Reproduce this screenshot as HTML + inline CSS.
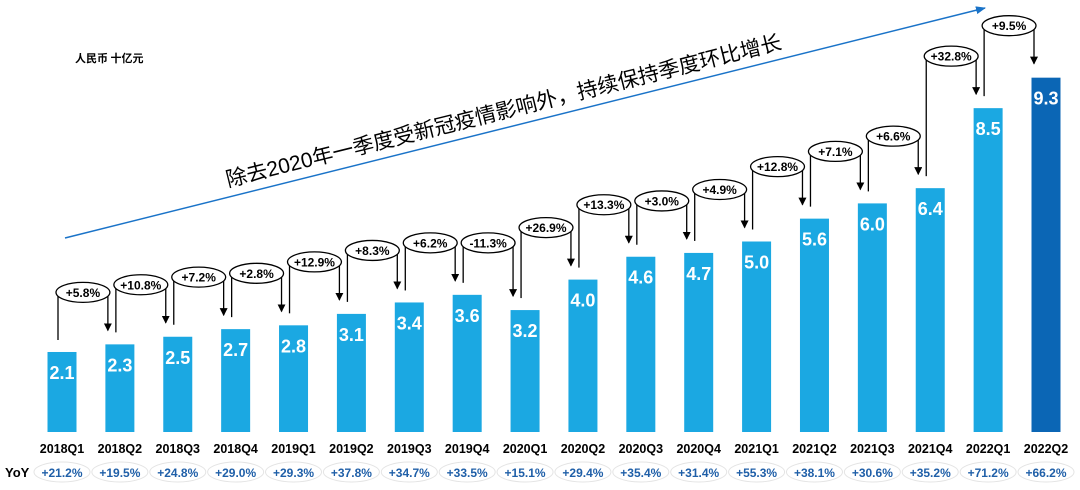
<!DOCTYPE html>
<html><head><meta charset="utf-8"><style>
html,body{margin:0;padding:0;background:#fff;}
svg{display:block;font-family:"Liberation Sans","Noto Sans CJK SC",sans-serif;}
</style></head><body>
<svg id="chart" width="1080" height="490" viewBox="0 0 1080 490" xmlns="http://www.w3.org/2000/svg">
<defs><marker id="ah" markerWidth="8" markerHeight="8" refX="7" refY="4" orient="auto" markerUnits="userSpaceOnUse"><path d="M0,0 L8,4 L0,8 z" fill="#000"/></marker>
<marker id="ab" markerWidth="10" markerHeight="8" refX="9" refY="4" orient="auto" markerUnits="userSpaceOnUse"><path d="M0,0 L10,4 L0,8 z" fill="#1a73c8"/></marker></defs>
<text x="75" y="62" font-size="11" font-weight="bold" font-family="'Noto Sans CJK SC',sans-serif">人民币 十亿元</text>
<line x1="65" y1="238" x2="985" y2="8" stroke="#1a73c8" stroke-width="1.5" marker-end="url(#ab)"/>
<text transform="translate(228,187) rotate(-14)" font-size="21">除去2020年一季度受新冠疫情影响外，持续保持季度环比增长</text>
<g id="g"></g>
</svg>
<script>
const categories=["2018Q1","2018Q2","2018Q3","2018Q4","2019Q1","2019Q2","2019Q3","2019Q4","2020Q1","2020Q2","2020Q3","2020Q4","2021Q1","2021Q2","2021Q3","2021Q4","2022Q1","2022Q2"];
const values=[2.1,2.3,2.5,2.7,2.8,3.1,3.4,3.6,3.2,4.0,4.6,4.7,5.0,5.6,6.0,6.4,8.5,9.3];
const qoqLabels=["","+5.8%","+10.8%","+7.2%","+2.8%","+12.9%","+8.3%","+6.2%","-11.3%","+26.9%","+13.3%","+3.0%","+4.9%","+12.8%","+7.1%","+6.6%","+32.8%","+9.5%"];
const yoyLabels=["+21.2%","+19.5%","+24.8%","+29.0%","+29.3%","+37.8%","+34.7%","+33.5%","+15.1%","+29.4%","+35.4%","+31.4%","+55.3%","+38.1%","+30.6%","+35.2%","+71.2%","+66.2%"];
const NS="http://www.w3.org/2000/svg";
const g=document.getElementById('g');
const x0=62,step=(1046-62)/17,base=432,k=38.1,bw=29;
const xc=i=>x0+i*step, yv=v=>base-v*k;
function el(t,a,p){const e=document.createElementNS(NS,t);for(const n in a)e.setAttribute(n,a[n]);(p||g).appendChild(e);return e;}
el('text',{x:5,y:477,'font-size':13,'font-weight':'bold'}).textContent='YoY';
categories.forEach((c,i)=>{
  const v=values[i],top=yv(v);
  const b=el('rect',{x:xc(i)-bw/2,y:top,width:bw,height:base-top,fill:i===17?'#0b66b5':'#1ba8e2'});
  
  
  const vt=el('text',{x:xc(i),y:top+27,'text-anchor':'middle','font-size':18,'font-weight':'bold',fill:'#fff'});
  vt.textContent=v.toFixed(1);
  
  
  const ct=el('text',{x:xc(i),y:453,'text-anchor':'middle','font-size':12.5,'font-weight':'bold'});
  ct.textContent=c;
  
  
  const ye=el('ellipse',{cx:xc(i),cy:472,rx:28,ry:10,fill:'none',stroke:'#e4e4e4','stroke-width':1});
  
  
  const yt=el('text',{x:xc(i),y:477,'text-anchor':'middle','font-size':12,'font-weight':'bold',fill:'#1f5fa8'});
  yt.textContent=yoyLabels[i];
  
  
  if(i>0){
    const pt=yv(values[i-1]);
    const ey=Math.min(pt,top)-52;
    const lx=xc(i-1)-4,rx=xc(i)-12,cx=(lx+rx)/2;
    const l1=el('line',{x1:lx,y1:pt-12,x2:lx,y2:ey,stroke:'#000','stroke-width':1.3});
    
    
    const l2=el('line',{x1:rx,y1:ey,x2:rx,y2:top-14,stroke:'#000','stroke-width':1.3,'marker-end':'url(#ah)'});
    
    
    const e=el('ellipse',{cx:cx,cy:ey,rx:(rx-lx)/2+2,ry:10,fill:'#fff',stroke:'#000','stroke-width':1.3});
    
    
    const t=el('text',{x:cx,y:ey+4.5,'text-anchor':'middle','font-size':12,'font-weight':'bold'});
    t.textContent=qoqLabels[i];
    
    
  }
});
</script>
</body></html>
